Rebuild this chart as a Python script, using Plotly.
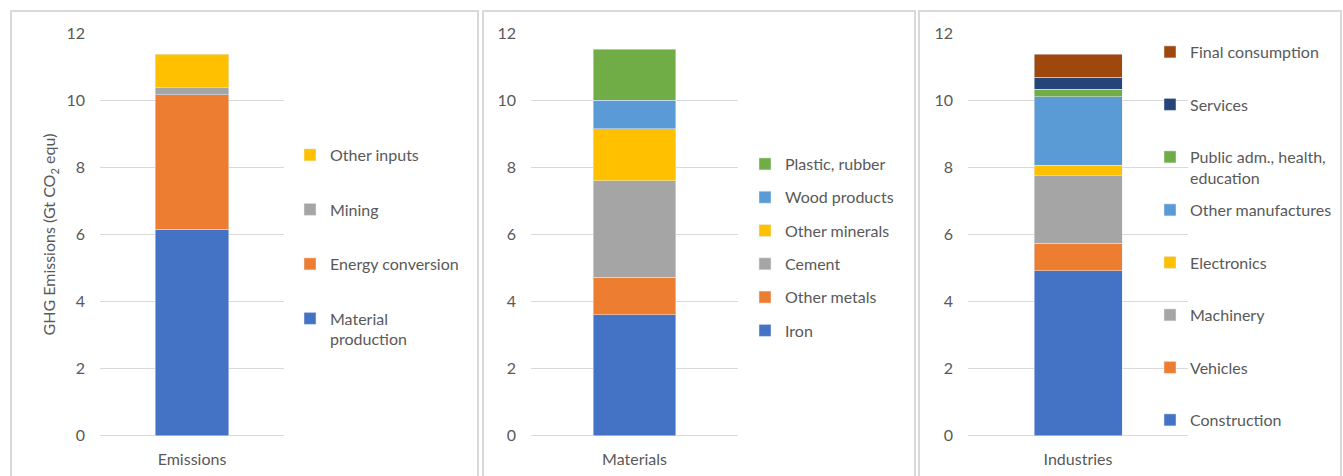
import plotly.graph_objects as go

# ---------------- data ----------------
emis_cat = ["Emissions"]
emis_names = ["Material<br>production", "Energy conversion", "Mining", "Other inputs"]
emis_vals = [6.15, 4.02, 0.21, 0.99]
emis_cols = ["#4472C4", "#ED7D31", "#A5A5A5", "#FFC000"]

mat_cat = ["Materials"]
mat_names = ["Iron", "Other metals", "Cement", "Other minerals", "Wood products", "Plastic, rubber"]
mat_vals = [3.60, 1.12, 2.88, 1.55, 0.86, 1.51]
mat_cols = ["#4472C4", "#ED7D31", "#A5A5A5", "#FFC000", "#5B9BD5", "#70AD47"]

ind_cat = ["Industries"]
ind_names = ["Construction", "Vehicles", "Machinery", "Electronics", "Other manufactures",
             "Public adm., health,<br>education", "Services", "Final consumption"]
ind_vals = [4.92, 0.82, 2.01, 0.31, 2.05, 0.22, 0.36, 0.69]
ind_cols = ["#4472C4", "#ED7D31", "#A5A5A5", "#FFC000", "#5B9BD5", "#70AD47", "#264478", "#9E480E"]

y_ticks = [0, 2, 4, 6, 8, 10, 12]
y_title = "GHG Emissions (Gt CO<sub>2</sub> equ)"

# ---------------- layout constants ----------------
W, H = 1343, 476
FONT = "Lato, Carlito, Calibri, sans-serif"
FS = 16
TXT = "#595959"
GRID = "#D9D9D9"


def px_x(p):
    return p / W


def px_y(p):
    return 1 - p / H


ydom = [px_y(435.7), px_y(33.3)]
xdoms = [[px_x(100), px_x(284)], [px_x(531), px_x(738)], [px_x(968), px_x(1188)]]

fig = go.Figure()

# panel 1
for i, (n, v, c) in enumerate(zip(emis_names, emis_vals, emis_cols)):
    fig.add_trace(go.Bar(x=emis_cat, y=[v], name=n, marker_color=c, width=0.4,
                         xaxis="x", yaxis="y", legend="legend", legendgroup="e%d" % i,
                         legendrank=100 - i, hoverinfo="name+y"))
# panel 2
for i, (n, v, c) in enumerate(zip(mat_names, mat_vals, mat_cols)):
    fig.add_trace(go.Bar(x=mat_cat, y=[v], name=n, marker_color=c, width=0.4,
                         xaxis="x2", yaxis="y2", legend="legend2", legendgroup="m%d" % i,
                         legendrank=100 - i, hoverinfo="name+y"))
# panel 3 (legend split in two blocks to mimic Excel's even spacing)
for i, (n, v, c) in enumerate(zip(ind_names, ind_vals, ind_cols)):
    lg = "legend4" if i >= 5 else "legend3"
    fig.add_trace(go.Bar(x=ind_cat, y=[v], name=n, marker_color=c, width=0.4,
                         xaxis="x3", yaxis="y3", legend=lg, legendgroup="i%d" % i,
                         legendrank=100 - i, hoverinfo="name+y"))

axis_common = dict(showline=False, ticks="", automargin=False,
                   tickfont=dict(size=FS, color=TXT, family=FONT), fixedrange=True)
yax = dict(range=[0, 12], tickvals=y_ticks, showgrid=True, gridcolor=GRID, gridwidth=1,
           zeroline=True, zerolinecolor=GRID, zerolinewidth=1, ticklabelstandoff=14,
           domain=ydom, **axis_common)
xax = dict(showgrid=False, zeroline=False, ticklabelstandoff=12, **axis_common)

fig.update_layout(
    width=W, height=H, margin=dict(l=0, r=0, t=0, b=0, autoexpand=False),
    paper_bgcolor="white", plot_bgcolor="white",
    barmode="stack", bargap=0.6,
    font=dict(family=FONT, color=TXT, size=FS),
    xaxis=dict(domain=xdoms[0], anchor="y", **xax),
    xaxis2=dict(domain=xdoms[1], anchor="y2", **xax),
    xaxis3=dict(domain=xdoms[2], anchor="y3", **xax),
    yaxis=dict(anchor="x", title=dict(text=y_title, standoff=6,
                                      font=dict(size=FS, color=TXT, family=FONT)), **yax),
    yaxis2=dict(anchor="x2", **yax),
    yaxis3=dict(anchor="x3", **yax),
)

leg_common = dict(bgcolor="rgba(0,0,0,0)", borderwidth=0, xanchor="left", yanchor="top",
                  valign="top", font=dict(size=FS, color=TXT, family=FONT),
                  traceorder="grouped", itemclick=False, itemdoubleclick=False)
OFF = 16
fig.update_layout(
    legend=dict(x=px_x(330 - 40), y=px_y(154 - OFF), tracegroupgap=30.7, **leg_common),
    legend2=dict(x=px_x(785 - 40), y=px_y(163 - OFF), tracegroupgap=9.5, **leg_common),
    legend4=dict(x=px_x(1190 - 40), y=px_y(51 - OFF), tracegroupgap=28.7, **leg_common),
    legend3=dict(x=px_x(1190 - 40), y=px_y(209 - OFF), tracegroupgap=28.7, **leg_common),
)

# panel frames (Excel chart-area borders)
frames = [(11, 478), (483, 915), (919, 1341)]
for x0, x1 in frames:
    fig.add_shape(type="rect", xref="paper", yref="paper",
                  x0=px_x(x0), x1=px_x(x1), y0=px_y(H + 20), y1=px_y(11),
                  line=dict(color=GRID, width=2), fillcolor="rgba(0,0,0,0)", layer="below")

fig.write_html("out.html")
